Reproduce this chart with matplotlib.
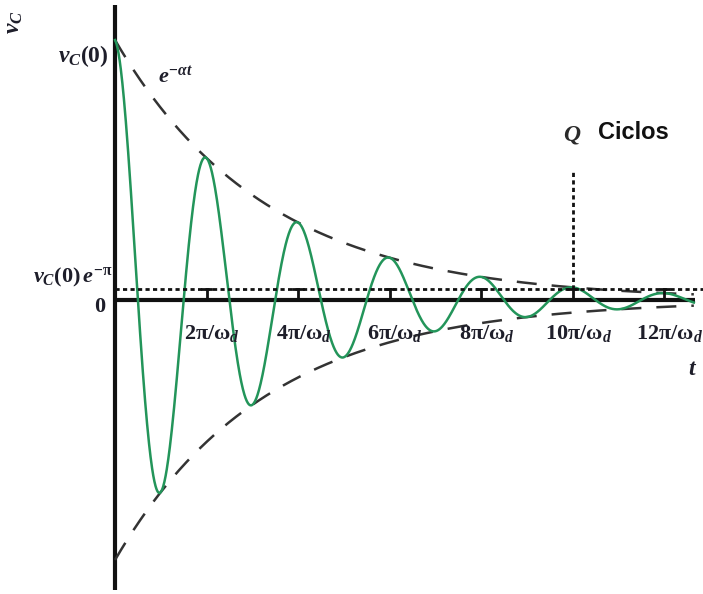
import numpy as np
import matplotlib
matplotlib.use("Agg")
import matplotlib.pyplot as plt

plt.rcParams['mathtext.fontset'] = 'custom'
plt.rcParams['mathtext.rm'] = 'Liberation Serif:bold'
plt.rcParams['mathtext.it'] = 'Liberation Serif:italic:bold'
plt.rcParams['mathtext.bf'] = 'Liberation Serif:bold'

# values (t in units of pi/omega_d, v in units of vC(0))
v0 = 1.0
decay_per_cycle = 0.546        # ratio of successive peaks
t_end = 12.65
tick_pos = [2, 4, 6, 8, 10, 12]
tick_labels = [r'$\mathrm{2\pi/\omega}_{d}$', r'$\mathrm{4\pi/\omega}_{d}$',
               r'$\mathrm{6\pi/\omega}_{d}$', r'$\mathrm{8\pi/\omega}_{d}$',
               r'$\mathrm{10\pi/\omega}_{d}$', r'$\mathrm{12\pi/\omega}_{d}$']
q_cycles_t = 10
q_line_top = 0.5

alpha = -np.log(decay_per_cycle) / 2.0   # per unit of pi/omega_d
level = v0 * np.exp(-np.pi)

t = np.linspace(0, t_end, 1500)
v = v0 * np.exp(-alpha * t) * np.cos(np.pi * t)
env = v0 * np.exp(-alpha * t)

fig = plt.figure(figsize=(7.03, 5.94), dpi=100)
ax = fig.add_axes([0, 0, 1, 1])
ax.set_xlim(-2.514, 12.85)
ax.set_ylim(-1.131, 1.154)
ax.axis('off')

txt = '#1e1e2a'

# axes lines
ax.plot([0, 0], [-1.115, 1.135], color='#111111', lw=3, solid_capstyle='butt')
ax.plot([0, 12.68], [0, 0], color='#111111', lw=3, solid_capstyle='butt')

# envelopes
ax.plot(t, env, color='#333333', lw=1.8, dashes=(8, 6))
ax.plot(t, -env, color='#333333', lw=1.8, dashes=(8, 6))

# response
ax.plot(t, v, color='#23955a', lw=1.8)

# e^-pi level and Q line
ax.plot([0, 12.85], [level, level], color='#111111', lw=2, dashes=(1.5, 1.2))
ax.plot([q_cycles_t, q_cycles_t], [level, q_line_top], color='#111111', lw=2,
        dashes=(1.5, 1.2))

for p, lab in zip(tick_pos, tick_labels):
    ax.plot([p, p], [0, level], color='#111111', lw=2)
    ax.plot([p - 0.1, p + 0.1], [level, level], color='#111111', lw=2)
    ax.text(p + 0.12, -0.13, lab, fontsize=16, color=txt, ha='center', va='center')

ax.text(-2.22, 1.07, r'$v_{C}$', fontsize=17, color=txt, rotation=90,
        ha='center', va='center')
ax.text(-0.15, 0.94, r'$v_{C}\mathrm{(0)}$', fontsize=17, color=txt,
        ha='right', va='center')
ax.text(0.95, 0.86, r'$e^{\mathrm{-}\alpha t}$', fontsize=16, color=txt,
        ha='left', va='center')
ax.text(-0.05, 0.085, r'$v_{C}\mathrm{(0)}\,e^{\mathrm{-\pi}}$', fontsize=16, color=txt,
        ha='right', va='center')
ax.text(-0.2, -0.025, r'$\mathrm{0}$', fontsize=16, color=txt, ha='right', va='center')
ax.text(10.0, 0.64, r'$Q$', fontsize=17, color='#2a2a2a', ha='center', va='center')
ax.text(10.55, 0.645, 'Ciclos', fontsize=17, fontweight='bold', family='Liberation Sans',
        color='#111111', ha='left', va='center')
ax.text(12.62, -0.26, r'$t$', fontsize=17, color=txt, ha='center', va='center')

fig.savefig('out.png', dpi=100)
